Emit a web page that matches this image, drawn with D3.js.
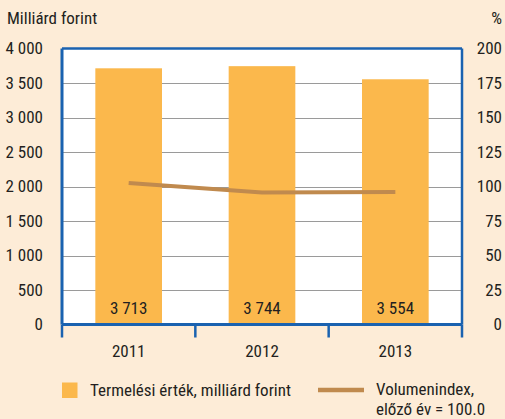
<!DOCTYPE html>
<html><head><meta charset="utf-8">
<script src="https://cdn.jsdelivr.net/npm/d3@7"></script>
<style>
html,body{margin:0;padding:0;background:#fdecd7;}
svg{display:block;}
text{font-family:"Liberation Sans Narrow","Roboto Condensed","Liberation Sans",sans-serif;fill:#231f20;}
</style></head><body>
<script>
const years = ["2011","2012","2013"];
const values = [3713, 3744, 3554];
const valueLabels = ["3 713","3 744","3 554"];
const volumeIndex = [102.5, 95.6, 96.0];
const leftTicks = [0,500,1000,1500,2000,2500,3000,3500,4000];
const leftTickLabels = ["0","500","1 000","1 500","2 000","2 500","3 000","3 500","4 000"];
const rightTicks = [0,25,50,75,100,125,150,175,200];

const W=505,H=419;
const m={left:62,right:43,top:48.5,bottom:94.5};
const svg=d3.select("body").append("svg").attr("width",W).attr("height",H);
svg.append("rect").attr("width",W).attr("height",H).attr("fill","#fdecd7");
const x0=m.left,x1=W-m.right,y0=m.top,y1=H-m.bottom;

const x=d3.scaleBand().domain(years).range([x0,x1]).paddingInner(0.5).paddingOuter(0.25);
const xo=d3.scaleBand().domain(years).range([x0,x1]);
const yL=d3.scaleLinear().domain([0,4000]).range([y1,y0]);
const yR=d3.scaleLinear().domain([0,200]).range([y1,y0]);

svg.append("rect").attr("x",x0).attr("y",y0).attr("width",x1-x0).attr("height",y1-y0).attr("fill","#fff");

// gridlines
svg.append("g").selectAll("line").data(leftTicks.filter(d=>d>0&&d<4000)).join("line")
 .attr("x1",x0).attr("x2",x1).attr("y1",d=>Math.round(yL(d))+0.5).attr("y2",d=>Math.round(yL(d))+0.5)
 .attr("stroke","#9a9a9a").attr("stroke-width",1);

// bars
svg.append("g").selectAll("rect").data(values).join("rect")
 .attr("x",(d,i)=>x(years[i])).attr("width",x.bandwidth())
 .attr("y",d=>yL(d)).attr("height",d=>y1-yL(d)).attr("fill","#fbb84c");

// bar labels
svg.append("g").selectAll("text").data(valueLabels).join("text")
 .attr("x",(d,i)=>x(years[i])+x.bandwidth()/2).attr("y",y1-11)
 .attr("text-anchor","middle").attr("font-size",17).text(d=>d);

// line
const line=d3.line().x((d,i)=>x(years[i])+x.bandwidth()/2).y(d=>yR(d));
svg.append("path").datum(volumeIndex).attr("d",line).attr("fill","none")
 .attr("stroke","#c08a4e").attr("stroke-width",4);

// frame
const blue="#1a62b0";
svg.append("line").attr("x1",x0).attr("x2",x1).attr("y1",y0).attr("y2",y0).attr("stroke",blue).attr("stroke-width",2.5);
svg.append("line").attr("x1",x1).attr("x2",x1).attr("y1",y0).attr("y2",y1).attr("stroke",blue).attr("stroke-width",2.5);
svg.append("line").attr("x1",x0).attr("x2",x0).attr("y1",y0).attr("y2",y1).attr("stroke",blue).attr("stroke-width",3);
// x axis
const xAxis=d3.axisBottom(xo).tickSize(0).tickPadding(32);
const gx=svg.append("g").attr("transform",`translate(0,${y1})`).call(xAxis);
gx.select(".domain").attr("stroke",blue).attr("stroke-width",3).attr("d",`M${x0},0H${x1}`);
gx.selectAll(".tick text").attr("font-size",17).attr("fill","#231f20").attr("dy","0");
const bounds=[x0].concat(years.map(y=>xo(y)+xo.bandwidth()));
svg.append("g").selectAll("line").data(bounds).join("line")
 .attr("x1",d=>d).attr("x2",d=>d).attr("y1",y1).attr("y2",y1+13).attr("stroke",blue).attr("stroke-width",2.5);

// left axis
const gl=svg.append("g").attr("transform",`translate(${x0},0)`)
 .call(d3.axisLeft(yL).tickValues(leftTicks).tickFormat((d,i)=>leftTickLabels[i]).tickSize(0).tickPadding(19));
gl.select(".domain").remove();
gl.selectAll(".tick text").attr("font-size",17).attr("fill","#231f20");

// right axis
const gr=svg.append("g").attr("transform",`translate(${W-3},0)`)
 .call(d3.axisLeft(yR).tickValues(rightTicks).tickSize(0).tickPadding(0));
gr.select(".domain").remove();
gr.selectAll(".tick text").attr("font-size",17).attr("fill","#231f20");

// axis titles
svg.append("text").attr("x",7).attr("y",24).attr("font-size",17).text("Milliárd forint");
svg.append("text").attr("x",W-3).attr("y",24).attr("font-size",17).attr("text-anchor","end").text("%");

// legend
svg.append("rect").attr("x",62).attr("y",382.5).attr("width",15.5).attr("height",15.5).attr("fill","#fbb84c");
svg.append("text").attr("x",90).attr("y",396).attr("font-size",17).text("Termelési érték, milliárd forint");
svg.append("line").attr("x1",318).attr("x2",364).attr("y1",390).attr("y2",390).attr("stroke","#c08a4e").attr("stroke-width",4.5);
svg.append("text").attr("x",376).attr("y",395).attr("font-size",17).text("Volumenindex,");
svg.append("text").attr("x",376).attr("y",415).attr("font-size",17).text("előző év = 100.0");
</script>
</body></html>
